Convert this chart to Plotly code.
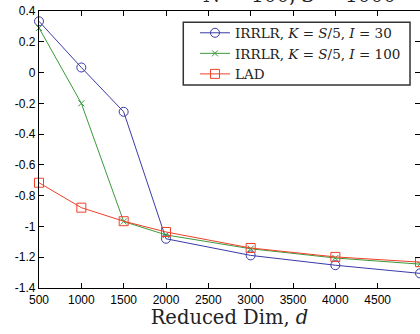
import plotly.graph_objects as go

dims = [500, 1000, 1500, 2000, 3000, 4000, 5000]
irrlr_i30 = [0.333, 0.033, -0.255, -1.08, -1.188, -1.252, -1.305]
irrlr_i100 = [0.29, -0.20, -0.968, -1.055, -1.145, -1.205, -1.245]
lad = [-0.716, -0.878, -0.966, -1.036, -1.14, -1.198, -1.232]

names = ["IRRLR, <i>K</i> = <i>S</i>/5, <i>I</i> = 30",
         "IRRLR, <i>K</i> = <i>S</i>/5, <i>I</i> = 100",
         "LAD"]
colors = ["#3a3aa8", "#3a9a3a", "#f0402a"]
symbols = ["circle-open", "x-thin-open", "square-open"]

xtick_vals = [500, 1000, 1500, 2000, 2500, 3000, 3500, 4000, 4500]
xtick_text = ["500", "1000", "1500", "2000", "2500", "3000", "3500", "4000", "4500"]
ytick_vals = [0.4, 0.2, 0, -0.2, -0.4, -0.6, -0.8, -1, -1.2, -1.4]
ytick_text = ["0.4", "0.2", "0", "-0.2", "-0.4", "-0.6", "-0.8", "-1", "-1.2", "-1.4"]

title_text = "<i>N</i> = 100, <i>S</i> = 1000"
xlabel = "Reduced Dim, <i>d</i>"

serif = "DejaVu Serif, Liberation Serif, serif"

fig = go.Figure()
for ys, nm, c, s in zip([irrlr_i30, irrlr_i100, lad], names, colors, symbols):
    fig.add_trace(go.Scatter(
        x=dims, y=ys, name=nm, mode="lines+markers",
        line=dict(color=c, width=1),
        marker=dict(symbol=s, size=9 if s != "x-thin-open" else 6, color=c,
                    line=dict(color=c, width=1)),
        cliponaxis=False,
    ))

axis_common = dict(showline=True, linecolor="black", linewidth=1.2, mirror="ticks",
                   ticks="inside", ticklen=5, tickcolor="black", tickwidth=1,
                   showgrid=False, zeroline=False,
                   tickfont=dict(family="Liberation Sans, Arial, sans-serif", size=12, color="black"))

fig.update_layout(
    width=420, height=334,
    margin=dict(l=39, r=0, t=11, b=46),
    paper_bgcolor="white", plot_bgcolor="white",
    showlegend=True,
    legend=dict(x=0.4094, y=0.9765, xanchor="left", yanchor="top",
                bgcolor="rgba(0,0,0,0)", borderwidth=0,
                font=dict(family=serif, size=13.5, color="#222222"),
                tracegroupgap=0, itemwidth=30),
    shapes=[dict(type="rect", xref="paper", yref="paper",
                 x0=0.3787, x1=0.9738, y0=0.7329, y1=0.9592,
                 line=dict(color="#333333", width=1.5), fillcolor="white", layer="above")],
    xaxis=dict(range=[500, 5000], tickvals=xtick_vals, ticktext=xtick_text,
               title=dict(text=xlabel, standoff=4,
                          font=dict(family=serif, size=19.5, color="#222222")),
               **axis_common),
    yaxis=dict(range=[-1.4, 0.4], tickvals=ytick_vals, ticktext=ytick_text, **axis_common),
    annotations=[dict(text=title_text, xref="paper", yref="paper", x=0.685, y=1.008,
                      xanchor="center", yanchor="bottom", showarrow=False,
                      font=dict(family=serif, size=20, color="#222222"))],
)

fig.write_html("out.html", config={"displayModeBar": False},
               post_script="document.body.style.margin='0';")
